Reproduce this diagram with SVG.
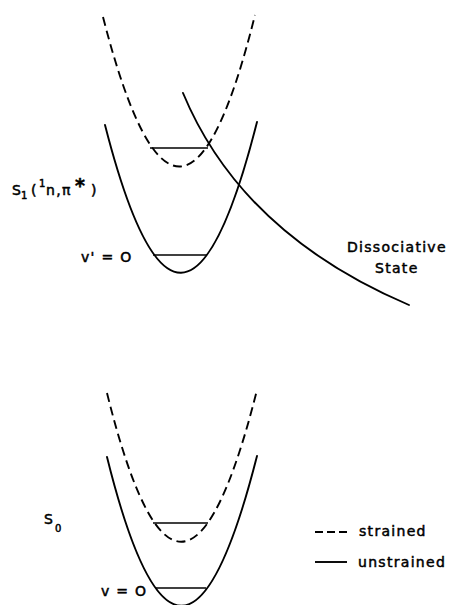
<svg xmlns="http://www.w3.org/2000/svg" width="450" height="605" viewBox="0 0 450 605">
<style>
.c{fill:none;stroke:#000;stroke-width:1.9;stroke-linecap:round}
.d{fill:none;stroke:#000;stroke-width:1.9;stroke-dasharray:9 5}
.l{fill:none;stroke:#000;stroke-width:1.4}
text{font-family:"DejaVu Sans",sans-serif;font-size:14px;letter-spacing:1.3px;fill:#000;stroke:#000;stroke-width:0.5}
.sm{font-size:10px;letter-spacing:0}
.st{font-size:19px;font-weight:bold;letter-spacing:0}
</style>
<rect width="450" height="605" fill="#fff"/>
<g id="connectors">
<path id="s1-strained" class="d" d="M103,17 Q180,317 255,15"/>
<path id="s1-unstrained" class="c" d="M105,125 Q181,422 257,122"/>
<path id="dissociative" class="c" d="M183,93 C215,170 280,250 409,305"/>
<path id="s0-strained" class="d" d="M107,393 Q181,692 257,390"/>
<path id="s0-unstrained" class="c" d="M107,457 Q181,755 257,456"/>
<line class="l" x1="150" y1="148" x2="208" y2="148"/>
<line class="l" x1="153" y1="255" x2="207" y2="255"/>
<line class="l" x1="153" y1="523" x2="208" y2="523"/>
<line class="l" x1="156" y1="588" x2="206" y2="588"/>
</g>
<g id="s1-label">
<text x="12" y="195">S</text>
<text class="sm" x="21" y="199">1</text>
<text x="31" y="195">(</text>
<text class="sm" x="39" y="187">1</text>
<text x="46" y="195">n,π</text>
<text class="st" x="75" y="192">*</text>
<text x="91" y="195">)</text>
</g>
<g id="vp-label"><text x="81" y="262">v' = O</text></g>
<g id="diss-label">
<text x="347" y="252">Dissociative</text>
<text x="375" y="273">State</text>
</g>
<g id="s0-label">
<text x="44" y="524">S</text>
<text class="sm" x="55" y="532">0</text>
</g>
<g id="v-label"><text x="101" y="596">v = O</text></g>
<g id="legend">
<line x1="315" y1="532" x2="347" y2="532" stroke="#000" stroke-width="1.9" stroke-dasharray="8 4"/>
<text x="359" y="536">strained</text>
<line x1="315" y1="562" x2="347" y2="562" stroke="#000" stroke-width="1.9"/>
<text x="358" y="567">unstrained</text>
</g>
</svg>
